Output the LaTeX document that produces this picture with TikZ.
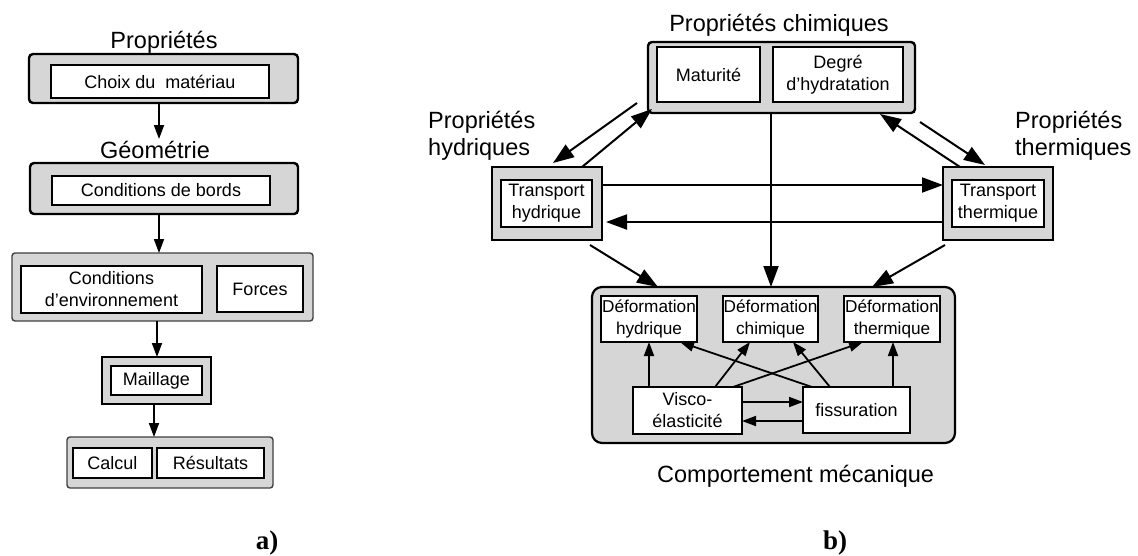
\documentclass[tikz,border=0pt]{standalone}
\usepackage{fontspec}
\setmainfont{Liberation Sans}
\newfontfamily\serifbold{Liberation Serif}
\usetikzlibrary{arrows.meta}
\definecolor{boxgray}{RGB}{214,214,214}
\newcommand\placebox[7]{\node[#1, minimum width={(#5-#3)*1pt}, minimum height={(#6-#4)*1pt}] (#2) at ({(#3+#5)/2},{(#4+#6)/2}) {#7};}
\begin{document}
\begin{tikzpicture}[x=1pt,y=-1pt,
  outerbox/.style={draw=black, fill=boxgray, line width=2.4pt, rounded corners=4pt, inner sep=0pt, outer sep=0pt},
  thinbox/.style={draw=black!75, fill=boxgray, line width=1.4pt, rounded corners=3pt, inner sep=0pt, outer sep=0pt},
  squarebox/.style={draw=black, fill=boxgray, line width=2.6pt, inner sep=0pt, outer sep=0pt},
  mechbox/.style={draw=black, fill=boxgray, line width=2.2pt, rounded corners=10pt, inner sep=0pt, outer sep=0pt},
  innerL/.style={draw=black, fill=white, line width=2.2pt, inner sep=0pt, outer sep=0pt, align=center, font=\fontsize{18}{22}\selectfont},
  innerR/.style={draw=black, fill=white, line width=1.6pt, inner sep=0pt, outer sep=0pt, align=center, font=\fontsize{18}{22}\selectfont},
  innerD/.style={innerR, font=\fontsize{17.2}{22}\selectfont},
  title/.style={inner sep=0pt, font=\fontsize{23.5}{27}\selectfont},
  label/.style={inner sep=0pt, font=\fontsize{27}{30}\serifbold\bfseries},
  arr/.style={-{Triangle[length=14pt,width=10pt]}, line width=1.8pt},
  bigarr/.style={-{Triangle[length=21pt,width=15pt]}, line width=2pt}
]
\useasboundingbox[fill=white] (0,0) rectangle (1138,555);

% ---------------- a) ----------------
\node[title, anchor=base] (T1) at (164,48) {Propriétés};
\placebox{outerbox}{O1}{29}{54}{298}{103}{}
\placebox{innerL}{I1}{51}{65}{269}{98}{Choix du~ matériau}
\node[title, anchor=base] (T2) at (155,158) {Géométrie};
\placebox{outerbox}{O2}{30}{163}{298}{214}{}
\placebox{innerL}{I2}{52}{176}{270}{205}{Conditions de bords}
\placebox{thinbox}{O3}{12}{253}{313}{321}{}
\placebox{innerL}{I3a}{21}{266}{202}{313}{Conditions\\d'environnement}
\placebox{innerL}{I3b}{217}{266}{303}{312}{Forces}
\placebox{squarebox}{O4}{102}{357}{211}{404}{}
\placebox{innerL}{I4}{111}{366}{202}{395}{Maillage}
\placebox{thinbox}{O5}{67}{437}{273}{488}{}
\placebox{innerL}{I5a}{73}{448}{152}{478}{Calcul}
\placebox{innerL}{I5b}{157}{448}{264}{478}{Résultats}

\coordinate (a1) at (159,139);
\draw[arr] (O1.south -| a1) -- (a1);
\draw[arr] (O2.south -| 159,0) -- (O3.north -| 159,0);
\draw[arr] (O3.south -| 157,0) -- (O4.north -| 157,0);
\draw[arr] (O4.south -| 154,0) -- (O5.north -| 154,0);

\node[label, anchor=base] (La) at (267,549) {a)};

% ---------------- b) ----------------
\node[title, anchor=base] (TC) at (779,31) {Propriétés chimiques};
\placebox{outerbox}{CH}{648}{42}{915}{113}{}
\placebox{innerR}{MA}{657}{47}{760}{102}{Maturité}
\placebox{innerR}{DG}{773}{47}{903}{102}{Degré\\d'hydratation}

\node[title, anchor=west, align=left] (TH) at (428,135.5) {Propriétés\\hydriques};
\placebox{squarebox}{HO}{492}{167}{602}{240}{}
\placebox{innerR}{HI}{501}{180}{592}{227}{Transport\\hydrique}

\node[title, anchor=west, align=left] (TT) at (1015,135.5) {Propriétés\\thermiques};
\placebox{squarebox}{TO}{943}{167}{1053}{240}{}
\placebox{innerR}{TI}{952}{180}{1044}{227}{Transport\\thermique}

\placebox{mechbox}{ME}{592}{287}{955}{443}{}
\placebox{innerD}{DH}{601}{296}{697}{342}{Déformation\\hydrique}
\placebox{innerD}{DC}{723}{296}{818}{342}{Déformation\\chimique}
\placebox{innerD}{DT}{844}{296}{940}{342}{Déformation\\thermique}
\placebox{innerR}{VI}{633}{387}{742}{434}{Visco-\\élasticité}
\placebox{innerR}{FI}{803}{387}{910}{433}{fissuration}

\node[title, anchor=base west] (TM) at (657,482) {Comportement mécanique};
\node[label, anchor=base] (Lb) at (835,549) {b)};

% arrows between the property boxes
\coordinate (c1) at (637,103);
\coordinate (h1) at (553,163);
\draw[bigarr] (c1) -- (h1);
\coordinate (h2) at (582,167);
\coordinate (c2) at (652,109);
\draw[bigarr] (h2) -- (c2);
\coordinate (t1) at (960,167);
\coordinate (c3) at (880,114);
\draw[bigarr] (t1) -- (c3);
\coordinate (c4) at (920,122);
\coordinate (t2) at (985,165);
\draw[bigarr] (c4) -- (t2);
\draw[bigarr] (HO.east |- 0,185) -- (TO.west |- 0,185);
\coordinate (h3) at (606,222);
\draw[bigarr] (TO.west |- 0,222) -- (h3);
\coordinate (h4) at (590,245);
\coordinate (m1) at (658,287);
\draw[bigarr] (h4) -- (m1);
\draw[bigarr] (CH.south -| 771,0) -- (ME.north -| 771,0);
\coordinate (t3) at (945,245);
\coordinate (m2) at (872,287);
\draw[bigarr] (t3) -- (m2);

% arrows inside the mechanical box
\draw[arr] (VI.north -| 649,0) -- (DH.south -| 649,0);
\draw[arr] (FI.north -| 893,0) -- (DT.south -| 893,0);
\draw[arr] (VI.north -| 715,0) -- (DC.south -| 750,0);
\draw[arr] (VI.north -| 733,0) -- (DT.south -| 863,0);
\draw[arr] (FI.north -| 812,0) -- (DH.south -| 680,0);
\draw[arr] (FI.north -| 830,0) -- (DC.south -| 793,0);
\draw[arr] (VI.east |- 0,402) -- (FI.west |- 0,402);
\draw[arr] (FI.west |- 0,421) -- (VI.east |- 0,421);
\end{tikzpicture}
\end{document}
